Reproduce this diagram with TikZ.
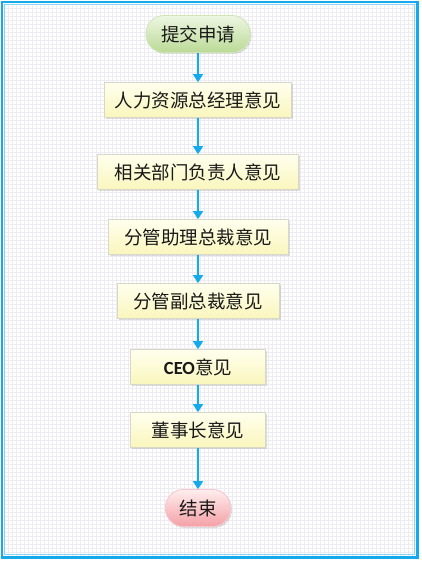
\documentclass[tikz,border=0pt]{standalone}
\usepackage{fontspec}
\setmainfont{Noto Sans CJK SC}
\newfontfamily\latinfont{Carlito}
\usetikzlibrary{shadows,arrows.meta}
\definecolor{flowblue}{RGB}{20,170,235}
\definecolor{framelight}{RGB}{140,215,245}
\definecolor{gridgray}{RGB}{236,236,242}
\definecolor{boxtop}{RGB}{255,255,238}
\definecolor{boxbot}{RGB}{250,246,188}
\definecolor{boxline}{RGB}{216,216,200}
\definecolor{greentop}{RGB}{238,246,226}
\definecolor{greenbot}{RGB}{186,218,150}
\definecolor{redtop}{RGB}{255,238,238}
\definecolor{redbot}{RGB}{244,160,166}
\tikzset{
  opinion/.style={draw=boxline, line width=0.8pt, top color=boxtop, bottom color=boxbot,
    minimum height=35pt, inner sep=0pt, text=black!90,
    font=\fontsize{18.5}{20}\selectfont,
    drop shadow={shadow xshift=1.5pt, shadow yshift=-1.5pt, opacity=0.25}},
  terminal/.style={opinion, rounded corners=18pt, minimum height=37pt},
  flow/.style={flowblue, line width=1.8pt, -{Triangle[length=8pt,width=10pt]}}
}

\begin{document}
\begin{tikzpicture}[x=1pt,y=-1pt]
\useasboundingbox (0,0) rectangle (421,561);
\fill[white] (0,0) rectangle (421,561);
\draw[gridgray, line width=0.3pt, step=4pt] (4,4) grid (416,556);
\draw[flowblue, line width=2.4pt] (1.8,1.8) rectangle (417.5,557.5);
\draw[framelight, line width=1.2pt] (4.6,4.6) rectangle (414.8,554.8);
% nodes
\node[terminal, top color=greentop, bottom color=greenbot, draw=greenbot!70, minimum width=104pt] (start) at (198,34) {提交申请};
\node[opinion, minimum width=187pt] (hr) at (198,100) {人力资源总经理意见};
\node[opinion, minimum width=201pt] (dept) at (198,172) {相关部门负责人意见};
\node[opinion, minimum width=180pt] (avp) at (198,237) {分管助理总裁意见};
\node[opinion, minimum width=162pt] (vp) at (198,301) {分管副总裁意见};
\node[opinion, minimum width=135pt] (ceo) at (198,367) {{\latinfont\bfseries CEO}意见};
\node[opinion, minimum width=135pt] (chair) at (198,430) {董事长意见};
\node[terminal, top color=redtop, bottom color=redbot, draw=redbot!60, minimum width=65pt] (stop) at (198,508) {结束};
% connectors
\draw[flow] (start) -- (hr);
\draw[flow] (hr) -- (dept);
\draw[flow] (dept) -- (avp);
\draw[flow] (avp) -- (vp);
\draw[flow] (vp) -- (ceo);
\draw[flow] (ceo) -- (chair);
\draw[flow] (chair) -- (stop);
\end{tikzpicture}
\end{document}
